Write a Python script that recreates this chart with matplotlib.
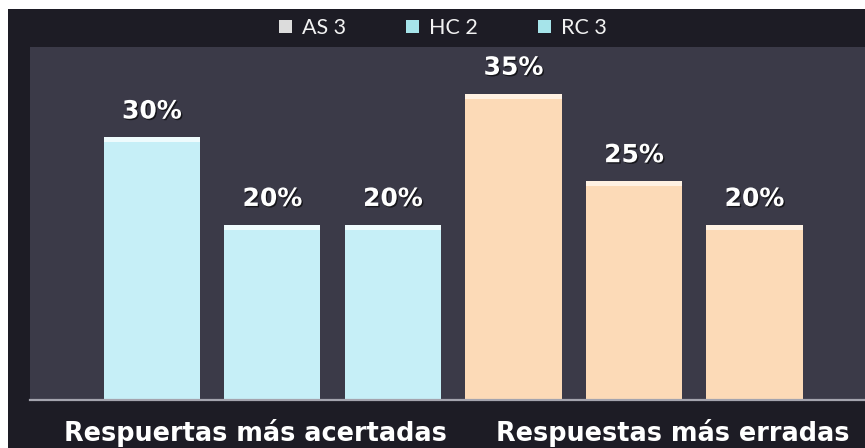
import matplotlib
matplotlib.use("Agg")
import matplotlib.pyplot as plt
from matplotlib.patches import Rectangle, Patch
import matplotlib.patheffects as pe

# Data
categories = ["Respuertas más acertadas", "Respuestas más erradas"]
series = ["AS 3", "HC 2", "RC 3"]
values = {
    "AS 3": [30, 35],
    "HC 2": [20, 25],
    "RC 3": [20, 20],
}

# Styling
category_colors = ["#c6eff7", "#fcdab7"]
category_tops = ["#eefbfd", "#fff1e2"]
legend_colors = ["#dcdcdc", "#a6e4ea", "#a6e4ea"]
outer_bg = "#1d1c25"
plot_bg = "#3b3a48"

W, H = 865, 448
fig = plt.figure(figsize=(W / 100, H / 100), dpi=100, facecolor="white")

# dark frame behind the chart
fig.patches.append(Rectangle((8 / W, 0), 1 - 8 / W, 1 - 9 / H,
                             transform=fig.transFigure, facecolor=outer_bg,
                             edgecolor="none", zorder=-10))

ax = fig.add_axes([30 / W, 48 / H, (W - 30) / W, (400 - 47) / H])
ax.set_zorder(1)
ax.set_facecolor(plot_bg)

n_series = len(series)
bar_w = 0.797
for j, cat in enumerate(categories):
    for i, s in enumerate(series):
        x = j * n_series + i
        v = values[s][j]
        ax.bar(x, v, width=bar_w, color=category_colors[j], edgecolor="none", zorder=2)
        # bevel highlight along the top edge
        ax.bar(x, 0.55, bottom=v - 0.55, width=bar_w, color=category_tops[j],
               edgecolor="none", zorder=3)
        ax.annotate(f"{v}%", xy=(x, v), xytext=(0, 13.7), textcoords="offset points",
                    ha="center", va="baseline", color="white", fontsize=18,
                    fontweight="bold", family="DejaVu Sans", zorder=4,
                    path_effects=[pe.withSimplePatchShadow(offset=(1, -1),
                                                           shadow_rgbFace="black",
                                                           alpha=0.6)])

ax.set_xlim(-1.012, 5.917)
ax.set_ylim(0, 40.34)
ax.axhline(0, color="#a4a4ae", lw=1.6, zorder=5, clip_on=False)
ax.set_xticks([])
ax.set_yticks([])
for sp in ax.spines.values():
    sp.set_visible(False)

# category captions under the plot
cat_x = [255, 673]
for cx, cat in zip(cat_x, categories):
    fig.text(cx / W, 1 - 441 / H, cat, ha="center", va="baseline", color="white",
             fontsize=18.4, fontweight="bold", family="DejaVu Sans", zorder=2)

# legend across the top
handles = [Patch(facecolor=c, edgecolor="none") for c in legend_colors]
leg = fig.legend(handles, series, loc="center", ncol=3,
                 bbox_to_anchor=(443 / W, 1 - 28 / H), frameon=False,
                 handlelength=0.6, handleheight=0.6, handletextpad=0.45,
                 columnspacing=2.8, prop={"family": "Lato", "size": 15.5})
leg.set_zorder(2)
for t in leg.get_texts():
    t.set_color("#f2f2f2")

fig.savefig("out.png", dpi=100, facecolor=fig.get_facecolor())
